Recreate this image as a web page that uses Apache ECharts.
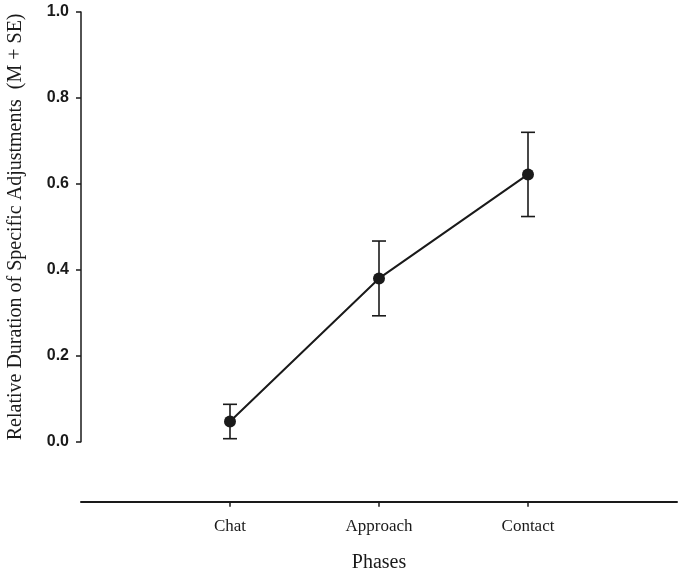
<!DOCTYPE html>
<html>
<head>
<meta charset="utf-8">
<script src="https://cdn.jsdelivr.net/npm/echarts@6/dist/echarts.min.js"></script>
<style>html,body{margin:0;padding:0;background:#fff}#c{width:683px;height:574px}</style>
</head>
<body>
<div id="c"></div>
<script>
const categories = ['Chat', 'Approach', 'Contact'];
const positions = [1, 2, 3];
const means = [0.047, 0.380, 0.622];
const errors = [0.040, 0.087, 0.098];
const yTicks = [0.0, 0.2, 0.4, 0.6, 0.8, 1.0];

const chart = echarts.init(document.getElementById('c'));
const lineData = positions.map((p, i) => [p, means[i]]);
const errData = positions.map((p, i) => [p, means[i] - errors[i], means[i] + errors[i]]);
const ink = '#1a1a1a';
const serif = '"Liberation Serif", "DejaVu Serif", serif';

chart.setOption({
  animation: false,
  grid: [
    { left: 81, right: 6, top: 12, bottom: 132.3, outerBoundsMode: 'none', containLabel: false },
    { left: 81, right: 6, top: 12, bottom: 72.3, outerBoundsMode: 'none', containLabel: false }
  ],
  xAxis: [
    { type: 'value', gridIndex: 0, min: 0, max: 4, show: false },
    {
      type: 'value', gridIndex: 1, min: 0, max: 4,
      name: 'Phases', nameLocation: 'middle', nameGap: 51,
      nameTextStyle: { fontFamily: serif, fontSize: 20, color: ink },
      axisLine: { onZero: false, lineStyle: { color: ink, width: 2 } },
      axisTick: { customValues: positions, length: 5, lineStyle: { color: ink, width: 1.5 } },
      axisLabel: {
        customValues: positions, margin: 16,
        fontFamily: serif, fontSize: 17, color: ink,
        formatter: v => categories[positions.indexOf(v)] || ''
      },
      splitLine: { show: false }
    }
  ],
  yAxis: [
    {
      type: 'value', gridIndex: 0, min: 0, max: 1, interval: 0.2,
      name: 'Relative Duration of Specific Adjustments  (M + SE)',
      nameLocation: 'middle', nameGap: 55,
      nameTextStyle: { fontFamily: serif, fontSize: 20, color: ink },
      axisLine: { show: true, lineStyle: { color: ink, width: 1.5 } },
      axisTick: { show: true, length: 5, lineStyle: { color: ink, width: 1.5 } },
      axisLabel: {
        customValues: yTicks, margin: 12,
        fontFamily: '"Liberation Sans", Arial, sans-serif', fontWeight: 'bold',
        fontSize: 16, color: ink,
        formatter: v => v.toFixed(1)
      },
      splitLine: { show: false }
    },
    { type: 'value', gridIndex: 1, show: false, min: 0, max: 1 }
  ],
  series: [
    {
      type: 'custom', xAxisIndex: 0, yAxisIndex: 0,
      data: errData,
      renderItem: (params, api) => {
        const x = api.value(0);
        const lo = api.coord([x, api.value(1)]);
        const hi = api.coord([x, api.value(2)]);
        const hw = 7;
        const style = { stroke: ink, lineWidth: 1.6 };
        return {
          type: 'group',
          children: [
            { type: 'line', shape: { x1: lo[0], y1: lo[1], x2: hi[0], y2: hi[1] }, style },
            { type: 'line', shape: { x1: hi[0] - hw, y1: hi[1], x2: hi[0] + hw, y2: hi[1] }, style },
            { type: 'line', shape: { x1: lo[0] - hw, y1: lo[1], x2: lo[0] + hw, y2: lo[1] }, style }
          ]
        };
      },
      z: 1
    },
    {
      type: 'line', xAxisIndex: 0, yAxisIndex: 0,
      data: lineData,
      symbol: 'circle', symbolSize: 12,
      lineStyle: { color: ink, width: 2 },
      itemStyle: { color: ink },
      z: 2
    }
  ]
});
</script>
</body>
</html>
